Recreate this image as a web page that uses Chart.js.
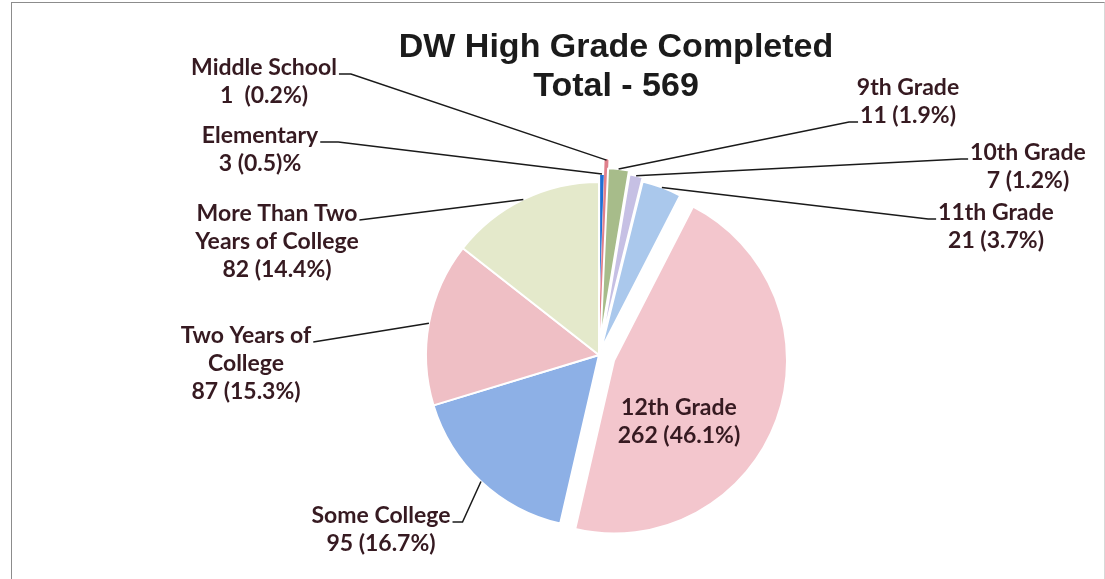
<!DOCTYPE html>
<html>
<head>
<meta charset="utf-8">
<title>DW High Grade Completed</title>
<script src="https://cdn.jsdelivr.net/npm/chart.js@4.4.0/dist/chart.umd.min.js"></script>
<style>
  html, body { margin: 0; padding: 0; background: #fff; }
  #wrap { position: relative; width: 1105px; height: 579px; overflow: hidden; }
  #chart { position: absolute; left: 0; top: 0; }
  /* marco del grafico (sin borde inferior, como en el original escaneado) */
  #frame {
    position: absolute; left: 11px; top: 2px; width: 1092px; height: 620px;
    border: 1px solid #8c8c8c; border-right-color: #d8d8d8; pointer-events: none;
  }
</style>
</head>
<body>
<div id="wrap">
  <canvas id="chart" width="1105" height="579"></canvas>
  <div id="frame"></div>
</div>
<script>
/* ──────────────────────────────────────────────
   DW High Grade Completed – pie
   ────────────────────────────────────────────── */

const TITLE = ["DW High Grade Completed", "Total - 569"];

// Categorias (cada una con sus lineas de texto)
const CATEGORIES = [
  ["Elementary"],
  ["Middle School"],
  ["9th Grade"],
  ["10th Grade"],
  ["11th Grade"],
  ["12th Grade"],
  ["Some College"],
  ["Two Years of", "College"],
  ["More Than Two", "Years of College"],
];

const COUNTS = [3, 1, 11, 7, 21, 262, 95, 87, 82];

// Texto de valor tal como aparece en el original
const COUNT_TEXT = ["3 (0.5)%", "1  (0.2%)", "11 (1.9%)", "7 (1.2%)", "21 (3.7%)",
                    "262 (46.1%)", "95 (16.7%)", "87 (15.3%)", "82 (14.4%)"];

// ── ESTILO / POSICIONES ───────────────────────

const SLICE_COLORS = ["#1e6fd6", "#e0808c", "#a7bc8a", "#c6c0e4", "#aac8ec",
                      "#f3c6cd", "#8db0e6", "#efbfc5", "#e4e9cb"];
const SLICE_BORDERS = ["#ffffff", "#e0808c", "#ffffff", "#ffffff", "#ffffff",
                       "#ffffff", "#ffffff", "#ffffff", "#ffffff"];

// Desplazamiento (explode) de cada porcion, en px
const EXPLODE = [8, 22, 14, 10, 6, 16, 0, 0, 0];

// Ubicacion de etiquetas: centro x, linea base de la 1a linea,
// lado por donde sale la guia y que linea de texto la lleva
const LABEL_POS = [
  { x: 260,  y: 143, side: "right", line: 0, elbow: 18 },
  { x: 264,  y: 75,  side: "right", line: 0, elbow: 12 },
  { x: 908,  y: 95,  side: "left",  line: 1, elbow: 9 },
  { x: 1028, y: 160, side: "left",  line: 0, elbow: 7 },
  { x: 996,  y: 220, side: "left",  line: 0, elbow: 8 },
  { x: 679,  y: 415, side: null },
  { x: 381,  y: 523, side: "right", line: 0, elbow: 10 },
  { x: 246,  y: 343, side: "right", line: 0, elbow: 0 },
  { x: 277,  y: 221, side: "right", line: 0, elbow: 0 },
];

const LINE_H = 28;
const LABEL_FONT = "bold 23px Lato";
const LABEL_COLOR = "#361a21";

// ── PLUGIN: porciones separadas + textos ──────

const pieDecor = {
  id: "pieDecor",

  // dibuja cada arco con su desplazamiento radial
  beforeDatasetDraw(chart, args) {
    const ctx = chart.ctx;
    args.meta.data.forEach((arc, i) => {
      const mid = (arc.startAngle + arc.endAngle) / 2;
      ctx.save();
      ctx.translate(Math.cos(mid) * EXPLODE[i], Math.sin(mid) * EXPLODE[i]);
      arc.draw(ctx, chart.chartArea);
      ctx.restore();
    });
    return false;
  },

  afterDatasetsDraw(chart) {
    const ctx = chart.ctx;
    const arcs = chart.getDatasetMeta(0).data;

    // titulo
    ctx.save();
    ctx.fillStyle = "#1b1b1b";
    ctx.font = "bold 34px 'Liberation Sans', Arial, sans-serif";
    ctx.textAlign = "center";
    ctx.textBaseline = "alphabetic";
    ctx.fillText(TITLE[0], 616, 57);
    ctx.fillText(TITLE[1], 616, 96);
    ctx.restore();

    // etiquetas y lineas guia
    ctx.save();
    ctx.font = LABEL_FONT;
    ctx.textAlign = "center";
    ctx.textBaseline = "alphabetic";
    arcs.forEach((arc, i) => {
      const pos = LABEL_POS[i];
      const lines = CATEGORIES[i].concat([COUNT_TEXT[i]]);

      if (pos.side) {
        const mid = (arc.startAngle + arc.endAngle) / 2;
        const r = arc.outerRadius + EXPLODE[i];
        const px = arc.x + Math.cos(mid) * r;
        const py = arc.y + Math.sin(mid) * r;

        const w = ctx.measureText(lines[pos.line]).width;
        const sy = pos.y + pos.line * LINE_H - 1;
        const dir = pos.side === "right" ? 1 : -1;
        const sx = pos.x + dir * (w / 2 + 2);
        const ex = sx + dir * pos.elbow;

        ctx.beginPath();
        ctx.strokeStyle = "#1a1a1a";
        ctx.lineWidth = 1.5;
        ctx.moveTo(sx, sy);
        ctx.lineTo(ex, sy);
        ctx.lineTo(px, py);
        ctx.stroke();
      }

      ctx.fillStyle = LABEL_COLOR;
      lines.forEach((txt, k) => ctx.fillText(txt, pos.x, pos.y + k * LINE_H));
    });
    ctx.restore();
  }
};

// ── GRAFICO ───────────────────────────────────

function initChart() {
  const ctx = document.getElementById("chart").getContext("2d");
  return new Chart(ctx, {
    type: "pie",
    data: {
      labels: CATEGORIES.map(c => c.join(" ")),
      datasets: [{
        data: COUNTS,
        backgroundColor: SLICE_COLORS,
        borderColor: SLICE_BORDERS,
        borderWidth: 2,
        radius: 173,
      }]
    },
    options: {
      responsive: false,
      animation: false,
      rotation: 0,
      layout: { padding: { left: 409, right: 316, top: 165, bottom: 34 } },
      plugins: {
        legend: { display: false },
        tooltip: { enabled: false },
        title: { display: false },
      }
    },
    plugins: [pieDecor]
  });
}

document.addEventListener("DOMContentLoaded", initChart);
</script>
</body>
</html>
